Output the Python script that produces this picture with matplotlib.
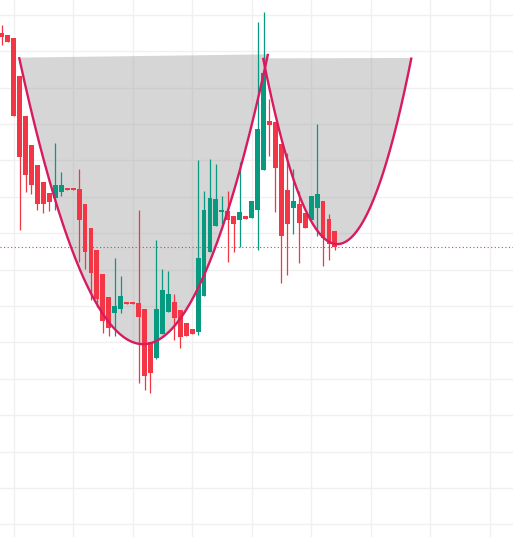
import matplotlib
matplotlib.use("Agg")
import matplotlib.pyplot as plt
from matplotlib.patches import Rectangle
import numpy as np

# ---- data (arbitrary price units) ----
opens  = [23.50, 23.45, 23.37, 22.32, 21.22, 20.43, 19.88, 19.40, 19.11, 18.97,
          19.14, 19.22, 19.21, 19.21, 18.80, 18.14, 17.54, 16.88, 16.25, 15.82,
          15.91, 16.08, 16.08, 16.07, 15.91, 15.00, 14.57, 15.24, 15.84, 16.11,
          15.89, 15.53, 15.37, 15.29, 16.28, 17.47, 18.21, 18.57, 18.61, 18.47,
          18.35, 18.47, 18.42, 18.64, 19.75, 21.09, 21.06, 20.45, 19.19, 18.70,
          18.80, 18.56, 18.35, 18.68, 18.89, 18.39, 18.06]
highs  = [23.72, 23.45, 23.37, 22.32, 21.22, 20.43, 19.88, 19.40, 19.11, 20.47,
          19.68, 19.22, 19.21, 19.77, 18.80, 18.14, 17.54, 16.88, 16.25, 17.31,
          16.82, 16.08, 16.08, 18.64, 15.91, 15.00, 17.81, 17.03, 16.97, 16.33,
          15.89, 15.53, 15.37, 20.01, 19.16, 20.04, 19.90, 19.02, 19.16, 18.47,
          19.95, 18.47, 18.89, 23.81, 24.08, 21.69, 21.06, 20.45, 20.21, 19.77,
          19.16, 18.56, 19.02, 21.00, 18.89, 18.53, 18.06]
lows   = [23.17, 23.26, 21.23, 18.10, 19.14, 19.08, 18.64, 18.55, 18.62, 18.64,
          19.03, 19.19, 19.19, 17.22, 17.02, 16.17, 15.97, 15.27, 15.18, 15.18,
          15.80, 16.06, 16.06, 13.89, 13.70, 13.62, 14.54, 15.24, 15.84, 15.07,
          14.85, 15.18, 15.24, 15.20, 16.28, 17.47, 18.21, 18.25, 17.22, 17.47,
          17.62, 18.40, 18.42, 17.55, 19.75, 20.13, 18.59, 16.63, 16.85, 17.98,
          17.19, 18.15, 18.35, 17.93, 17.10, 17.27, 17.54]
closes = [23.38, 23.26, 21.23, 20.10, 19.61, 19.33, 18.79, 18.79, 18.87, 19.33,
          19.33, 19.19, 19.19, 18.36, 17.49, 16.92, 16.20, 15.59, 15.40, 16.00,
          16.28, 16.06, 16.06, 15.71, 14.08, 14.17, 15.92, 16.44, 16.33, 15.68,
          15.16, 15.18, 15.24, 17.33, 18.64, 18.97, 18.94, 18.64, 18.35, 18.24,
          18.58, 18.40, 18.89, 20.87, 22.41, 20.98, 19.80, 17.93, 18.26, 18.89,
          18.29, 18.15, 19.02, 19.08, 17.86, 17.71, 17.61]

# cup and handle anchor points: (bar index, price) for left rim, bottom, right rim
cup_idx    = [2.91, 23.83, 44.76]
cup_price  = [22.84, 14.95, 22.93]
handle_idx   = [43.92, 56.4, 68.87]
handle_price = [22.82, 17.70, 22.83]

grid_x = [2, 12, 22, 32, 42, 52, 62, 72, 82]
grid_y = [10, 11, 12, 13, 14, 15, 16, 17, 18, 19, 20, 21, 22, 23, 24]

UP = "#089981"
DOWN = "#F23645"
CURVE = "#d81b60"

fig = plt.figure(figsize=(5.13, 5.37), dpi=100)
ax = fig.add_axes([0, 0, 1, 1])
ax.set_xlim(-0.29, 85.93)
ax.set_ylim(9.65, 24.41)
for s in ax.spines.values():
    s.set_visible(False)
ax.set_xticks(grid_x)
ax.set_yticks(grid_y)
ax.tick_params(length=0, labelbottom=False, labelleft=False)
ax.grid(True, color="#f0f0f0", linewidth=1.0, zorder=0)
ax.set_axisbelow(True)

def draw_pattern(xs, ys):
    coef = np.polyfit(xs, ys, 2)
    xx = np.linspace(xs[0], xs[-1], 400)
    yy = np.polyval(coef, xx)
    chord = np.interp(xx, [xs[0], xs[-1]], [ys[0], ys[-1]])
    ax.fill_between(xx, yy, chord, color="#9e9e9e", alpha=0.42,
                    linewidth=0, zorder=1)
    return xx, yy

cx, cy = draw_pattern(cup_idx, cup_price)
hx, hy = draw_pattern(handle_idx, handle_price)

w = 0.82
for i, (o, h, l, c) in enumerate(zip(opens, highs, lows, closes)):
    col = UP if c > o else DOWN
    ax.vlines(i, l, h, color=col, linewidth=0.9, zorder=3)
    bottom = min(o, c)
    height = max(abs(c - o), 0.04)
    ax.add_patch(Rectangle((i - w / 2, bottom), w, height, facecolor=col,
                           edgecolor="none", zorder=4))

ax.plot(cx, cy, color=CURVE, linewidth=1.7, zorder=5, solid_capstyle="butt")
ax.plot(hx, hy, color=CURVE, linewidth=1.7, zorder=5, solid_capstyle="butt")

ax.axhline(closes[-1], color=DOWN, linewidth=0.8, linestyle=(0, (1, 2.2)),
           zorder=2)

fig.savefig("out.png", dpi=100)
